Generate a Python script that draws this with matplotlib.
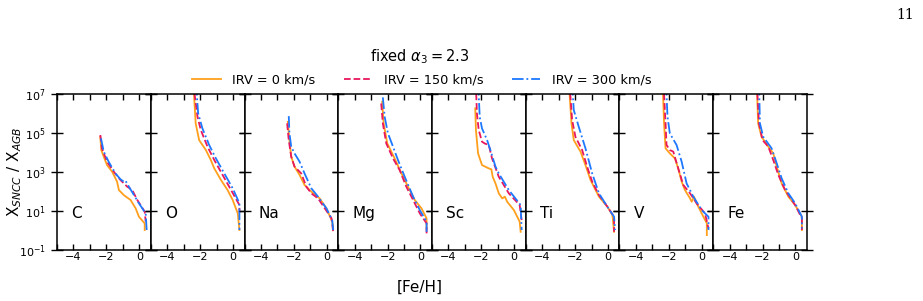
import numpy as np
import matplotlib
matplotlib.use("Agg")
import matplotlib.pyplot as plt
from matplotlib.ticker import MultipleLocator, FixedLocator

elements = ["C", "O", "Na", "Mg", "Sc", "Ti", "V", "Fe"]
series_labels = ["IRV = 0 km/s", "IRV = 150 km/s", "IRV = 300 km/s"]
title_text = r"fixed $\alpha_3 = 2.3$"

# [Fe/H] and log10(X_SNCC / X_AGB), per element, per IRV
feh_C_0 = [-2.37, -2.31, -2.16, -1.96, -1.65, -1.35, -1.24, -0.94, -0.53, -0.22, -0.02, 0.33, 0.33]
log_C_0 = [4.79, 4.11, 3.77, 3.34, 3.0, 2.49, 2.06, 1.80, 1.55, 1.12, 0.69, 0.35, 0.01]
feh_C_150 = [-2.37, -2.27, -1.96, -1.55, -1.14, -0.73, -0.43, -0.12, 0.33, 0.39]
log_C_150 = [4.88, 4.2, 3.51, 3.0, 2.57, 2.23, 2.06, 1.55, 0.95, 0.44]
feh_C_300 = [-2.33, -2.16, -1.86, -1.45, -1.14, -0.94, -0.84, -0.63, -0.02, 0.39, 0.45]
log_C_300 = [4.71, 4.03, 3.51, 2.91, 2.61, 2.49, 2.54, 2.23, 1.38, 0.86, 0.01]

feh_O_0 = [-2.37, -2.37, -2.27, -2.06, -1.65, -1.35, -1.14, -0.73, -0.33, -0.02, 0.29, 0.39]
log_O_0 = [7.5, 6.93, 5.48, 4.62, 4.11, 3.6, 3.17, 2.57, 2.06, 1.55, 0.86, 0.01]
feh_O_150 = [-2.33, -2.33, -2.16, -1.96, -1.55, -1.14, -0.63, -0.12, 0.39, 0.39]
log_O_150 = [7.5, 6.93, 5.82, 5.14, 4.28, 3.6, 2.83, 2.06, 1.29, 0.9]
feh_O_300 = [-2.2, -2.2, -2.12, -1.86, -1.45, -1.04, -0.53, -0.02, 0.39, 0.39]
log_O_300 = [7.5, 6.93, 5.99, 5.22, 4.37, 3.68, 2.91, 2.15, 1.38, 0.01]

feh_Na_0 = [-2.37, -2.27, -2.16, -1.96, -1.65, -1.35, -0.94, -0.43, -0.02, 0.33, 0.39]
log_Na_0 = [5.56, 4.62, 3.77, 3.26, 2.83, 2.32, 1.98, 1.63, 1.12, 0.44, 0.09]
feh_Na_150 = [-2.41, -2.31, -2.16, -1.96, -1.76, -1.55, -1.24, -0.94, -0.53, -0.12, 0.29, 0.39]
log_Na_150 = [5.48, 4.62, 3.77, 3.26, 3.09, 2.91, 2.23, 1.89, 1.63, 1.12, 0.61, -0.08]
feh_Na_300 = [-2.31, -2.27, -2.16, -1.96, -1.65, -1.35, -0.94, -0.53, -0.02, 0.33, 0.39]
log_Na_300 = [5.85, 4.97, 4.28, 3.94, 3.51, 2.91, 2.15, 1.72, 1.12, 0.52, 0.01]

feh_Mg_0 = [-2.33, -2.24, -2.02, -1.57, -1.16, -0.76, -0.35, 0.06, 0.37, 0.37]
log_Mg_0 = [6.59, 5.48, 4.45, 3.68, 2.91, 2.23, 1.55, 1.12, 0.61, 0.09]
feh_Mg_150 = [-2.39, -2.29, -2.08, -1.67, -1.27, -0.86, -0.45, -0.04, 0.37, 0.37]
log_Mg_150 = [6.5, 5.48, 4.45, 3.68, 3.09, 2.23, 1.55, 0.86, 0.35, -0.16]
feh_Mg_300 = [-2.29, -2.18, -1.98, -1.67, -1.37, -0.96, -0.45, -0.04, 0.37, 0.37]
log_Mg_300 = [6.81, 5.82, 4.97, 4.28, 3.6, 2.74, 1.72, 1.03, 0.44, -0.08]

feh_Sc_0 = [-2.37, -2.33, -2.2, -1.96, -1.55, -1.39, -1.31, -1.14, -0.94, -0.73, -0.57, -0.43, -0.02, 0.33, 0.39]
log_Sc_0 = [6.25, 5.14, 3.94, 3.34, 3.17, 3.12, 2.74, 2.40, 1.89, 1.63, 1.72, 1.46, 1.03, 0.44, -0.08]
feh_Sc_150 = [-2.31, -2.31, -2.27, -2.16, -1.96, -1.8, -1.55, -1.35, -0.94, -0.33, 0.33, 0.45]
log_Sc_150 = [7.5, 6.93, 5.99, 5.14, 4.54, 4.45, 4.37, 3.68, 2.74, 1.89, 1.29, 0.52]
feh_Sc_300 = [-2.16, -2.16, -2.1, -1.96, -1.65, -1.45, -1.14, -0.94, -0.33, 0.39, 0.45]
log_Sc_300 = [7.5, 6.93, 5.82, 5.22, 4.62, 4.11, 3.26, 2.91, 2.06, 1.29, 0.01]

feh_Ti_0 = [-2.33, -2.33, -2.22, -2.08, -1.67, -1.37, -1.06, -0.55, -0.04, 0.27, 0.37]
log_Ti_0 = [7.5, 6.93, 5.48, 4.62, 4.03, 3.34, 2.57, 1.72, 1.21, 0.78, -0.08]
feh_Ti_150 = [-2.29, -2.29, -2.18, -1.98, -1.57, -1.27, -0.96, -0.55, -0.04, 0.37, 0.37]
log_Ti_150 = [7.5, 6.93, 5.65, 4.79, 4.11, 3.26, 2.49, 1.80, 1.21, 0.69, -0.08]
feh_Ti_300 = [-2.14, -2.14, -2.08, -1.78, -1.37, -0.96, -0.55, -0.04, 0.37, 0.43]
log_Ti_300 = [7.5, 6.93, 6.16, 5.31, 4.2, 2.91, 1.89, 1.21, 0.69, 0.01]

feh_V_0 = [-2.35, -2.35, -2.29, -2.2, -1.94, -1.63, -1.43, -1.22, -1.02, -0.71, -0.61, -0.47, -0.31, 0.0, 0.31, 0.31]
log_V_0 = [7.5, 6.93, 5.48, 4.2, 3.94, 3.68, 3.17, 2.49, 2.06, 1.63, 1.46, 1.72, 1.38, 0.86, 0.35, -0.25]
feh_V_150 = [-2.29, -2.29, -2.2, -2.14, -1.94, -1.73, -1.43, -1.12, -0.71, -0.31, 0.2, 0.41]
log_V_150 = [7.5, 6.93, 5.48, 4.37, 4.11, 4.03, 3.17, 2.32, 1.89, 1.38, 0.86, 0.09]
feh_V_300 = [-2.14, -2.14, -2.08, -1.94, -1.53, -1.22, -0.92, -0.51, 0.0, 0.41, 0.41]
log_V_300 = [7.5, 6.93, 5.82, 4.97, 4.37, 3.51, 2.4, 1.72, 1.03, 0.69, 0.01]

feh_Fe_0 = [-2.33, -2.33, -2.27, -2.06, -1.65, -1.35, -1.14, -0.84, -0.43, -0.02, 0.39, 0.39]
log_Fe_0 = [7.5, 6.93, 5.48, 4.79, 4.28, 3.94, 3.26, 2.40, 1.72, 1.29, 0.69, 0.01]
feh_Fe_150 = [-2.31, -2.31, -2.22, -2.0, -1.65, -1.35, -1.04, -0.63, -0.02, 0.39, 0.39]
log_Fe_150 = [7.5, 6.93, 5.48, 4.62, 4.28, 3.6, 2.83, 2.06, 1.29, 0.61, 0.01]
feh_Fe_300 = [-2.2, -2.2, -2.16, -1.96, -1.45, -1.14, -0.84, -0.43, -0.02, 0.39, 0.39]
log_Fe_300 = [7.5, 6.93, 5.48, 4.79, 4.2, 3.43, 2.66, 1.89, 1.38, 0.69, 0.09]

data = {
    "C": [(feh_C_0, log_C_0), (feh_C_150, log_C_150), (feh_C_300, log_C_300)],
    "O": [(feh_O_0, log_O_0), (feh_O_150, log_O_150), (feh_O_300, log_O_300)],
    "Na": [(feh_Na_0, log_Na_0), (feh_Na_150, log_Na_150), (feh_Na_300, log_Na_300)],
    "Mg": [(feh_Mg_0, log_Mg_0), (feh_Mg_150, log_Mg_150), (feh_Mg_300, log_Mg_300)],
    "Sc": [(feh_Sc_0, log_Sc_0), (feh_Sc_150, log_Sc_150), (feh_Sc_300, log_Sc_300)],
    "Ti": [(feh_Ti_0, log_Ti_0), (feh_Ti_150, log_Ti_150), (feh_Ti_300, log_Ti_300)],
    "V": [(feh_V_0, log_V_0), (feh_V_150, log_V_150), (feh_V_300, log_V_300)],
    "Fe": [(feh_Fe_0, log_Fe_0), (feh_Fe_150, log_Fe_150), (feh_Fe_300, log_Fe_300)],
}

colors = ["#FF9F1C", "#E8175D", "#1E78FF"]
styles = ["-", "--", "-."]

fig = plt.figure(figsize=(9.23, 3.01), dpi=100)
left, right, bottom, top = 0.0618, 0.8743, 0.1704, 0.6887
n = len(elements)
w = (right - left) / n
axes = []
for i, el in enumerate(elements):
    ax = fig.add_axes([left + i * w, bottom, w, top - bottom])
    axes.append(ax)
    for (fx, ly), c, ls, lab in zip(data[el], colors, styles, series_labels):
        ax.plot(fx, 10 ** np.array(ly), color=c, ls=ls, lw=1.3, label=lab)
    ax.set_yscale("log")
    ax.set_ylim(1e-1, 1e7)
    ax.set_xlim(-5.0, 0.7)
    ax.yaxis.set_major_locator(FixedLocator([1e-1, 1e1, 1e3, 1e5, 1e7]))
    ax.yaxis.set_minor_locator(FixedLocator([]))
    ax.xaxis.set_major_locator(MultipleLocator(2))
    ax.xaxis.set_minor_locator(MultipleLocator(1))
    ax.tick_params(axis="y", which="major", direction="inout", length=9, width=1.0,
                   left=True, right=True, labelsize=8)
    ax.tick_params(axis="x", which="both", direction="in", length=4, width=1.0,
                   top=True, bottom=True, labelsize=8, pad=2)
    if i > 0:
        ax.tick_params(axis="y", labelleft=False)
    for sp in ax.spines.values():
        sp.set_linewidth(1.1)
    ax.text(0.15, 0.235, el, transform=ax.transAxes, ha="left", va="center", fontsize=11)

fig.text(15 / 923, 1 - 172 / 301, r"X$_{SNCC}$ / X$_{AGB}$", fontsize=11,
         rotation=90, ha="center", va="center")
fig.text(420 / 923, 1 - 287 / 301, "[Fe/H]", ha="center", va="center", fontsize=11)
fig.text(420 / 923, 1 - 57 / 301, title_text, ha="center", va="center", fontsize=10.5)
handles, labels = axes[0].get_legend_handles_labels()
fig.legend(handles, labels, loc="center", bbox_to_anchor=(422 / 923, 1 - 80 / 301),
           ncol=3, frameon=False, fontsize=9.3, handlelength=2.2, columnspacing=2.2,
           borderaxespad=0, handletextpad=0.9)
fig.text(905 / 923, 1 - 15 / 301, "11", ha="center", va="center", fontsize=10, family="DejaVu Serif")

fig.savefig("out.png", dpi=100)
